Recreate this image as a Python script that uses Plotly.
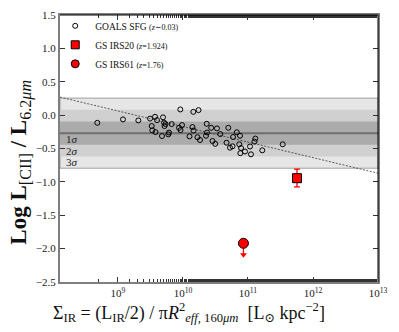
import numpy as np
import plotly.graph_objects as go

# ---------------- data ----------------
goals_log_sigma = [8.682, 9.077, 9.313, 9.493, 9.570, 9.600, 9.693, 9.708, 9.731, 9.716,
                   9.519, 9.528, 9.577, 9.677, 9.826, 9.785, 9.774, 9.959, 9.939, 9.985,
                   9.962, 10.100, 10.146, 10.162, 10.159, 10.239, 10.223, 10.262, 10.365, 10.434,
                   10.523, 10.574, 10.354, 10.454, 10.496, 10.697, 10.670, 10.770, 10.828, 10.877,
                   10.723, 10.762, 10.866, 10.893, 10.882, 10.954, 11.046, 11.031, 11.100, 11.113,
                   11.220, 11.534, 10.370]
goals_ratio = [-0.115, -0.064, -0.079, -0.052, -0.025, -0.075, -0.033, -0.112, -0.134, -0.164,
               -0.164, -0.228, -0.254, -0.313, -0.134, -0.261, -0.288, 0.085, -0.190, -0.149,
               -0.224, -0.318, -0.179, -0.231, 0.049, 0.075, -0.331, -0.373, -0.130, -0.190,
               -0.199, -0.284, -0.309, -0.388, -0.430, -0.190, -0.413, -0.328, -0.257, -0.309,
               -0.488, -0.467, -0.437, -0.493, -0.570, -0.545, -0.587, -0.470, -0.396, -0.351,
               -0.527, -0.437, -0.261]

irs20_log_sigma = [11.754]
irs20_ratio = [-0.945]
irs20_err_up = [0.135]
irs20_err_down = [0.130]

irs61_log_sigma = [10.93]
irs61_ratio = [-1.92]
irs61_limit_len = 0.17

median_ratio = -0.27
sigma_ratio = 0.175

fit_log_x = [8.108, 13.0]
fit_intercept = 2.159
fit_slope = -0.233

x_range_log = [8.108, 13.0]
y_range = [-2.5, 1.5]
x_tick_exps = [9, 10, 11, 12, 13]
y_tick_vals = [-2.5, -2.0, -1.5, -1.0, -0.5, 0.0, 0.5, 1.0, 1.5]
y_tick_text = ["−2.5", "−2.0", "−1.5", "−1.0", "−0.5", "0.0", "0.5", "1.0", "1.5"]

legend_names = ["GOALS SFG <span style='font-size:8px'>(<i>z</i>∼0.03)</span>",
                "GS IRS20 <span style='font-size:8px'>(<i>z</i>=1.924)</span>",
                "GS IRS61 <span style='font-size:8px'>(<i>z</i>=1.76)</span>"]

SERIF = "Liberation Serif, DejaVu Serif, serif"

fig = go.Figure()

band_colors = {3: "#e6e6e6", 2: "#d0d0d0", 1: "#ababab"}
for k in [3, 2, 1]:
    fig.add_shape(type="rect", xref="paper", yref="y", x0=0, x1=1,
                  y0=median_ratio - k * sigma_ratio, y1=median_ratio + k * sigma_ratio,
                  fillcolor=band_colors[k],
                  line=dict(width=1 if k == 3 else 0, color="#a0a0a0"),
                  layer="below")
fig.add_shape(type="line", xref="paper", yref="y", x0=0, x1=1,
              y0=median_ratio, y1=median_ratio,
              line=dict(color="#6e6e6e", width=2), layer="below")

fit_x = [10 ** v for v in fit_log_x]
fit_y = [fit_intercept + fit_slope * v for v in fit_log_x]
fig.add_trace(go.Scatter(x=fit_x, y=fit_y, mode="lines",
                         line=dict(color="#333333", width=0.8, dash="2px,1.5px"),
                         showlegend=False, hoverinfo="skip"))

goals_marker = dict(symbol="circle-open", size=5, color="black", line=dict(width=1, color="black"))
irs20_marker = dict(symbol="square", size=9, color="red", line=dict(width=1, color="black"))
irs61_marker = dict(symbol="circle", size=10, color="red", line=dict(width=1, color="black"))

fig.add_trace(go.Scatter(x=[10 ** v for v in goals_log_sigma], y=goals_ratio, mode="markers",
                         marker=goals_marker, showlegend=False))
fig.add_trace(go.Scatter(x=[10 ** v for v in irs20_log_sigma], y=irs20_ratio, mode="markers",
                         marker=irs20_marker,
                         error_y=dict(type="data", array=irs20_err_up, arrayminus=irs20_err_down,
                                      color="red", thickness=1.3, width=3),
                         showlegend=False))

ax61 = [10 ** irs61_log_sigma[0]] * 2
ay61 = [irs61_ratio[0], irs61_ratio[0] - irs61_limit_len]
fig.add_trace(go.Scatter(x=ax61, y=ay61, mode="lines", line=dict(color="red", width=1.3),
                         showlegend=False, hoverinfo="skip"))
fig.add_trace(go.Scatter(x=[ax61[1]], y=[ay61[1]], mode="markers",
                         marker=dict(symbol="triangle-down", size=6, color="red"),
                         showlegend=False, hoverinfo="skip"))
fig.add_trace(go.Scatter(x=[10 ** v for v in irs61_log_sigma], y=irs61_ratio, mode="markers",
                         marker=irs61_marker, showlegend=False))

for nm, mk in zip(legend_names, [goals_marker, dict(irs20_marker, size=8), dict(irs61_marker, size=8)]):
    fig.add_trace(go.Scatter(x=[None], y=[None], mode="markers", marker=mk, name=nm))

for k in [1, 2, 3]:
    fig.add_annotation(xref="paper", yref="y", x=0.012, xanchor="left",
                       y=median_ratio - (k - 0.5) * sigma_ratio, yanchor="middle",
                       text=f"{k}<i>σ</i>", showarrow=False,
                       font=dict(family=SERIF, size=11, color="#222"))

fig.add_annotation(xref="paper", yref="paper", x=0.405, y=-0.06, xanchor="center", yanchor="top",
                   text="Σ<sub>IR</sub>\u00a0=\u00a0(L<sub>IR</sub>/2)\u00a0/\u00a0π<i>R</i><sup>2</sup><sub><i>eff</i>, 160<i>μm</i></sub>\u00a0\u00a0[L<sub>⊙</sub>\u00a0kpc<sup>−2</sup>]",
                   showarrow=False, font=dict(family=SERIF, size=18, color="#111"))
fig.add_annotation(xref="paper", yref="paper", x=-0.125, y=0.448, xanchor="center", yanchor="middle",
                   textangle=-90,
                   text="<b>Log L</b><sub>[CII]</sub>\u00a0<b>/\u00a0L</b><sub>6.2<i>μm</i></sub>",
                   showarrow=False, font=dict(family=SERIF, size=23, color="#111"))

fig.add_shape(type="line", xref="paper", yref="paper", x0=0, x1=1, y0=1, y1=1,
              line=dict(color="black", width=1))
fig.add_shape(type="line", xref="paper", yref="paper", x0=1, x1=1, y0=0, y1=1,
              line=dict(color="black", width=1))

fig.update_xaxes(type="log", range=x_range_log,
                 tickvals=[10 ** e for e in x_tick_exps],
                 ticktext=[f"10<sup>{e}</sup>" for e in x_tick_exps],
                 ticks="inside", ticklen=5, tickwidth=1, tickcolor="#333",
                 minor=dict(ticks="inside", ticklen=3, tickwidth=1, tickcolor="#333", showgrid=False),
                 showgrid=False, zeroline=False,
                 showline=True, linecolor="#7f7f7f", linewidth=2, mirror="ticks",
                 tickfont=dict(family=SERIF, size=11, color="#222"),
                 automargin=False)
fig.update_yaxes(range=y_range, tickvals=y_tick_vals, ticktext=y_tick_text,
                 ticks="inside", ticklen=5, tickwidth=1, tickcolor="#333",
                 showgrid=False, zeroline=False,
                 showline=True, linecolor="#7f7f7f", linewidth=2, mirror="ticks",
                 tickfont=dict(family=SERIF, size=11, color="#222"),
                 automargin=False)

fig.update_layout(width=399, height=332,
                  margin=dict(l=60, r=21, t=14, b=50),
                  plot_bgcolor="white", paper_bgcolor="white",
                  showlegend=True,
                  legend=dict(x=-0.015, y=1.01, xanchor="left", yanchor="top",
                              bgcolor="rgba(0,0,0,0)", borderwidth=0,
                              font=dict(family=SERIF, size=9.5, color="#111"),
                              itemwidth=30, tracegroupgap=0))

fig.write_html("out.html", config={"displayModeBar": False},
               post_script="document.body.style.margin='0';document.body.style.overflow='hidden';")
